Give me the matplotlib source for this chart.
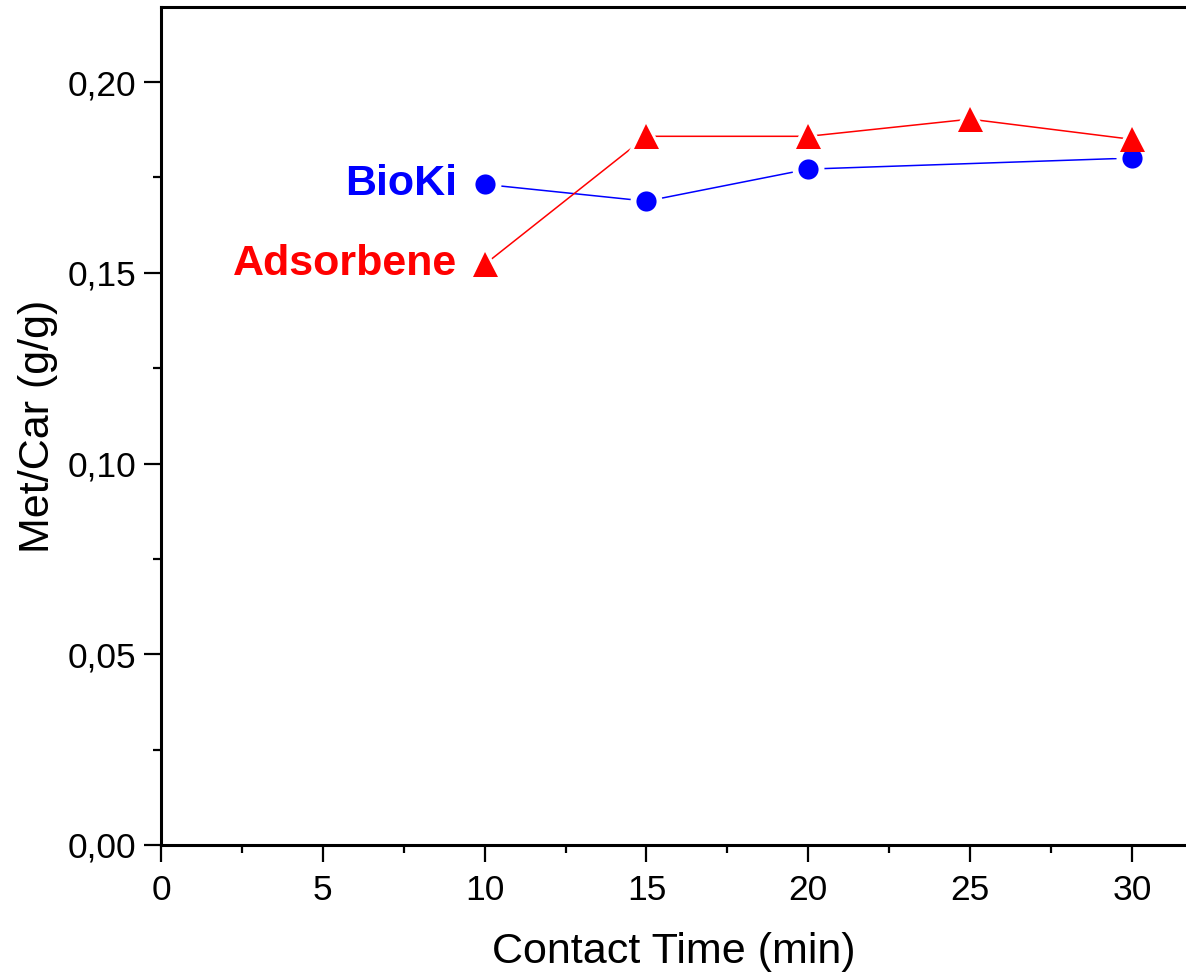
import matplotlib
matplotlib.use("Agg")
import matplotlib.pyplot as plt
from matplotlib.ticker import MultipleLocator, FuncFormatter

# Data
time_bioki = [10, 15, 20, 30]
bioki = [0.1732, 0.1688, 0.1772, 0.1801]
time_ads = [10, 15, 20, 25, 30]
adsorbene = [0.1522, 0.1858, 0.1858, 0.1903, 0.1850]
xlabel = "Contact Time (min)"
ylabel = "Met/Car (g/g)"

plt.rcParams['font.family'] = ['Liberation Sans', 'DejaVu Sans']

fig = plt.figure(figsize=(11.86, 9.74), dpi=100)
ax = fig.add_axes([161/1186, 129/974, 1 - 161/1186, (845-7)/974])

def draw(x, y, color, marker, ms_fill, ms_gap):
    ax.plot(x, y, color=color, lw=1.1, zorder=2)
    ax.plot(x, y, ls='none', marker=marker, ms=ms_gap, mfc='white', mec='white', mew=0, zorder=3)
    ax.plot(x, y, ls='none', marker=marker, ms=ms_fill, mfc=color, mec=color, mew=0, zorder=4)

draw(time_bioki, bioki, '#0000ff', 'o', 14.5, 23)
draw(time_ads, adsorbene, '#ff0000', '^', 18, 27)

ax.annotate("BioKi", (time_bioki[0], bioki[0]), xytext=(-20, 0), textcoords='offset points',
            ha='right', va='center', color='#0000ff', fontsize=31, fontweight='bold')
ax.annotate("Adsorbene", (time_ads[0], adsorbene[0]), xytext=(-20, 0), textcoords='offset points',
            ha='right', va='center', color='#ff0000', fontsize=31, fontweight='bold')

ax.set_xlim(0, 31.67)
ax.set_ylim(0, 0.2197)
ax.xaxis.set_major_locator(MultipleLocator(5))
ax.xaxis.set_minor_locator(MultipleLocator(2.5))
ax.yaxis.set_major_locator(MultipleLocator(0.05))
ax.yaxis.set_minor_locator(MultipleLocator(0.025))
ax.yaxis.set_major_formatter(FuncFormatter(lambda v, p: f"{v:.2f}".replace('.', ',')))
ax.xaxis.set_major_formatter(FuncFormatter(lambda v, p: f"{v:g}"))

ax.spines['right'].set_visible(False)
for s in ['left', 'bottom', 'top']:
    ax.spines[s].set_linewidth(2.2)

ax.tick_params(which='major', direction='out', length=12, width=1.6, labelsize=25.5)
ax.tick_params(axis='x', which='major', pad=9)
ax.tick_params(axis='y', which='major', pad=6)
ax.tick_params(which='minor', direction='out', length=6, width=1.6)
ax.tick_params(top=False, right=False, which='both')

ax.set_xlabel(xlabel, fontsize=31, labelpad=18)
ax.set_ylabel(ylabel, fontsize=31, labelpad=7)

fig.savefig("out.png", dpi=100)
